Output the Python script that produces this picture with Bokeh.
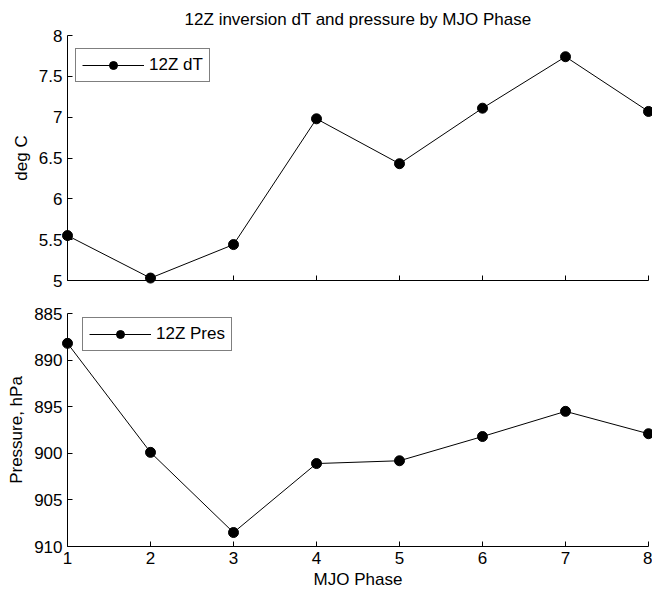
from bokeh.plotting import figure
from bokeh.models import Range1d, FixedTicker, Legend, LegendItem
from bokeh.layouts import column
from bokeh.embed import file_html
from bokeh.resources import INLINE

phases = [1, 2, 3, 4, 5, 6, 7, 8]
dT = [5.55, 5.03, 5.44, 6.98, 6.43, 7.11, 7.74, 7.07]
pres = [888.2, 899.9, 908.5, 901.1, 900.8, 898.2, 895.5, 897.9]
dT_ticks = [5, 5.5, 6, 6.5, 7, 7.5, 8]
dT_tick_labels = ["5", "5.5", "6", "6.5", "7", "7.5", "8"]
pres_ticks = [885, 890, 895, 900, 905, 910]
pres_tick_labels = ["885", "890", "895", "900", "905", "910"]

FONT = "Liberation Sans"
FS = "17px"


def style(p):
    p.outline_line_color = None
    p.xgrid.visible = False
    p.ygrid.visible = False
    for ax in (p.xaxis[0], p.yaxis[0]):
        ax.axis_line_color = "black"
        ax.major_tick_line_color = "black"
        ax.major_tick_in = 5
        ax.major_tick_out = 0
        ax.minor_tick_line_color = None
        ax.major_label_text_font = FONT
        ax.major_label_text_font_size = FS
        ax.major_label_text_color = "black"
        ax.axis_label_text_font = FONT
        ax.axis_label_text_font_size = FS
        ax.axis_label_text_font_style = "normal"
        ax.axis_label_text_color = "black"
    p.xaxis.ticker = FixedTicker(ticks=phases)


def legend(p, renderers, label, loc):
    lg = Legend(items=[LegendItem(label=label, renderers=renderers)],
                location=loc, border_line_color="black", border_line_width=1,
                background_fill_alpha=1, padding=6, margin=0, spacing=0,
                glyph_width=62, glyph_height=20, label_height=20,
                label_standoff=5, label_text_font=FONT, label_text_font_size=FS,
                label_text_color="black")
    p.add_layout(lg, "center")


# top panel
p1 = figure(width=652, height=290, output_backend="svg", toolbar_location=None,
            x_range=Range1d(1, 8), y_range=Range1d(5, 8),
            min_border_left=67, min_border_right=4, min_border_top=35,
            min_border_bottom=10,
            title="12Z inversion dT and pressure by MJO Phase")
style(p1)
p1.title.align = "center"
p1.title.text_font = FONT
p1.title.text_font_size = "17px"
p1.title.text_font_style = "normal"
p1.title.text_color = "black"
p1.title.standoff = 14
p1.yaxis.ticker = FixedTicker(ticks=dT_ticks)
p1.yaxis.major_label_overrides = dict(zip(dT_ticks, dT_tick_labels))
p1.yaxis.axis_label = "deg C"
p1.yaxis.major_label_standoff = 5
p1.yaxis.axis_label_standoff = 5
p1.xaxis.major_label_overrides = {ph: "" for ph in phases}
p1.xaxis.major_label_standoff = 0
l1 = p1.line(phases, dT, line_color="black", line_width=1, level="overlay")
c1 = p1.scatter(phases, dT, size=10, fill_color="black", line_color="black", level="overlay")
legend(p1, [l1, c1], "12Z dT", (8, 198))

# bottom panel
p2 = figure(width=652, height=307, output_backend="svg", toolbar_location=None,
            x_range=Range1d(1, 8), y_range=Range1d(910, 885),
            min_border_left=67, min_border_right=4, min_border_top=23,
            min_border_bottom=51)
style(p2)
p2.yaxis.ticker = FixedTicker(ticks=pres_ticks)
p2.yaxis.major_label_overrides = dict(zip(pres_ticks, pres_tick_labels))
p2.yaxis.axis_label = "Pressure, hPa"
p2.yaxis.major_label_standoff = 5
p2.yaxis.axis_label_standoff = 5
p2.xaxis.axis_label = "MJO Phase"
p2.xaxis.major_label_standoff = 5
p2.xaxis.axis_label_standoff = 3
l2 = p2.line(phases, pres, line_color="black", line_width=1, level="overlay")
c2 = p2.scatter(phases, pres, size=10, fill_color="black", line_color="black", level="overlay")
legend(p2, [l2, c2], "12Z Pres", (15, 195))

layout = column(p1, p2, spacing=0)
open("out.html", "w").write(file_html(layout, INLINE))
